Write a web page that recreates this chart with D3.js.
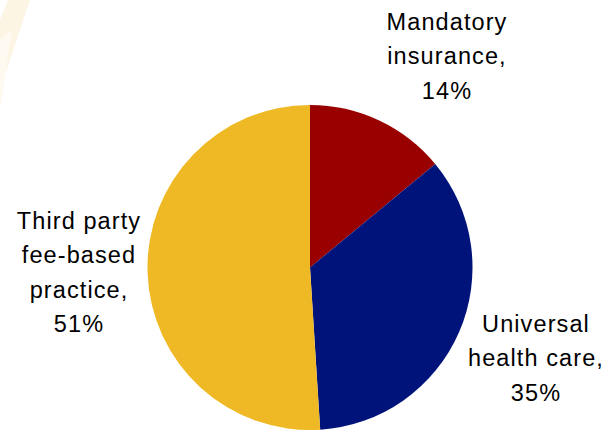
<!DOCTYPE html>
<html><head><meta charset="utf-8">
<script src="https://cdn.jsdelivr.net/npm/d3@7"></script>
<style>html,body{margin:0;padding:0;background:#fff;}svg{display:block;}</style>
</head><body>
<script>
const categories = ["Mandatory insurance", "Universal health care", "Third party fee-based practice"];
const values = [14, 35, 51];
const colors = ["#990000", "#00137A", "#EFB925"];
const labelLines = [["Mandatory", "insurance,", "14%"], ["Universal", "health care,", "35%"], ["Third party", "fee-based", "practice,", "51%"]];
const labelPos = [[447, 30], [536, 332], [79, 229]];

const W = 612, H = 431;
const svg = d3.select("body").append("svg").attr("width", W).attr("height", H);

// faint watermark top-left
const wm = svg.append("g").attr("opacity", 0.35);
wm.append("path").attr("d", "M8,0 L30,0 L10,60 L0,90 L0,20 Z").attr("fill", "#FCE3B0");
wm.append("path").attr("d", "M0,40 L12,30 L0,110 Z").attr("fill", "#FFF3DA");

const cx = 310, cy = 267.5, r = 162.5;
const pie = d3.pie().sort(null).value(d => d)(values);
const arc = d3.arc().innerRadius(0).outerRadius(r);
const g = svg.append("g").attr("transform", `translate(${cx},${cy})`);
g.selectAll("path").data(pie).join("path").attr("d", arc).attr("fill", (d, i) => colors[i]);

labelLines.forEach((lines, i) => {
  const t = svg.append("text").attr("x", labelPos[i][0]).attr("y", labelPos[i][1])
    .attr("text-anchor", "middle").attr("font-family", "Liberation Sans, Arial, sans-serif")
    .attr("font-size", 23.5).attr("letter-spacing", 1.1).attr("fill", "#000");
  lines.forEach((l, j) => t.append("tspan").attr("x", labelPos[i][0]).attr("dy", j === 0 ? 0 : 34.3).text(l));
});
</script>
</body></html>
